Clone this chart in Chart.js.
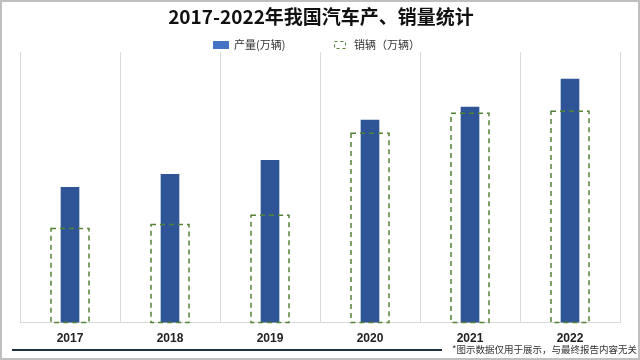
<!DOCTYPE html>
<html>
<head>
<meta charset="utf-8">
<script src="https://cdn.jsdelivr.net/npm/chart.js@4/dist/chart.umd.min.js"></script>
<style>
  html, body { margin: 0; padding: 0; background: #fff; }
  #wrap { width: 640px; height: 360px; position: relative; }
</style>
</head>
<body>
<div id="wrap"><canvas id="carChart" width="640" height="360"></canvas></div>
<script>
// Data (万辆)
const years = ["2017", "2018", "2019", "2020", "2021", "2022"];
const production = [1350, 1480, 1620, 2020, 2150, 2430];
const sales = [940, 980, 1070, 1890, 2090, 2110];

const titleText = "2017-2022年我国汽车产、销量统计";
const legendText = ["产量(万辆)", "销辆（万辆）"];
const noteText = "*图示数据仅用于展示，与最终报告内容无关";

const BLUE = "#2f5597";
const GREEN = "#548235";
const CJK = '"Noto Sans CJK SC", "Liberation Sans", sans-serif';

// dashed outline for the sales bars
const dashedBars = {
  id: "dashedBars",
  afterDatasetsDraw(chart) {
    const ctx = chart.ctx;
    const meta = chart.getDatasetMeta(1);
    ctx.save();
    ctx.strokeStyle = GREEN;
    ctx.lineWidth = 1.5;
    ctx.setLineDash([5, 4]);
    meta.data.forEach(el => {
      const p = el.getProps(["x", "y", "base", "width"], true);
      ctx.strokeRect(p.x - p.width / 2, p.y, p.width, p.base - p.y);
    });
    ctx.restore();
  }
};

// title, legend, footer note and frame
const decorations = {
  id: "decorations",
  afterDraw(chart) {
    const ctx = chart.ctx;
    ctx.save();
    // frame
    ctx.strokeStyle = "#bfbfbf";
    ctx.lineWidth = 2;
    ctx.strokeRect(1, 1, 638, 358);

    // title
    ctx.fillStyle = "#111";
    ctx.font = 'bold 19px ' + CJK;
    ctx.textAlign = "center";
    ctx.textBaseline = "middle";
    ctx.fillText(titleText, 321, 17);

    // legend
    ctx.textAlign = "left";
    ctx.font = '11px ' + CJK;
    ctx.fillStyle = "#4472c4";
    ctx.fillRect(213, 41, 16, 8);
    ctx.fillStyle = "#333";
    ctx.fillText(legendText[0], 234, 45);
    ctx.strokeStyle = GREEN;
    ctx.lineWidth = 1;
    ctx.setLineDash([3, 3]);
    ctx.strokeRect(334.5, 41.5, 11, 7);
    ctx.setLineDash([]);
    ctx.fillText(legendText[1], 354, 45);

    // footer
    ctx.strokeStyle = "#1f2d3d";
    ctx.lineWidth = 2;
    ctx.beginPath();
    ctx.moveTo(12, 350);
    ctx.lineTo(442, 350);
    ctx.stroke();
    ctx.fillStyle = "#333";
    ctx.font = '9.5px ' + CJK;
    ctx.textAlign = "right";
    ctx.fillText(noteText, 637, 349);
    ctx.restore();
  }
};

new Chart(document.getElementById("carChart"), {
  type: "bar",
  data: {
    labels: years,
    datasets: [
      {
        label: legendText[0],
        data: production,
        backgroundColor: BLUE,
        barThickness: 18,
        grouped: false,
        order: 2
      },
      {
        label: legendText[1],
        data: sales,
        backgroundColor: "rgba(0,0,0,0)",
        borderWidth: 0,
        barThickness: 38,
        grouped: false,
        order: 1
      }
    ]
  },
  options: {
    responsive: false,
    animation: false,
    layout: { padding: { top: 52, left: 20, right: 20, bottom: 5 } },
    plugins: {
      legend: { display: false },
      title: { display: false },
      tooltip: { enabled: false }
    },
    scales: {
      x: {
        offset: true,
        grid: { display: true, offset: true, color: "#d9d9d9", drawTicks: false },
        border: { display: true, color: "#d9d9d9" },
        ticks: {
          color: "#222",
          padding: 9,
          font: { family: '"Liberation Sans", sans-serif', size: 12, weight: "bold" }
        }
      },
      y: {
        display: false,
        min: 0,
        max: 2700
      }
    }
  },
  plugins: [dashedBars, decorations]
});
</script>
</body>
</html>
